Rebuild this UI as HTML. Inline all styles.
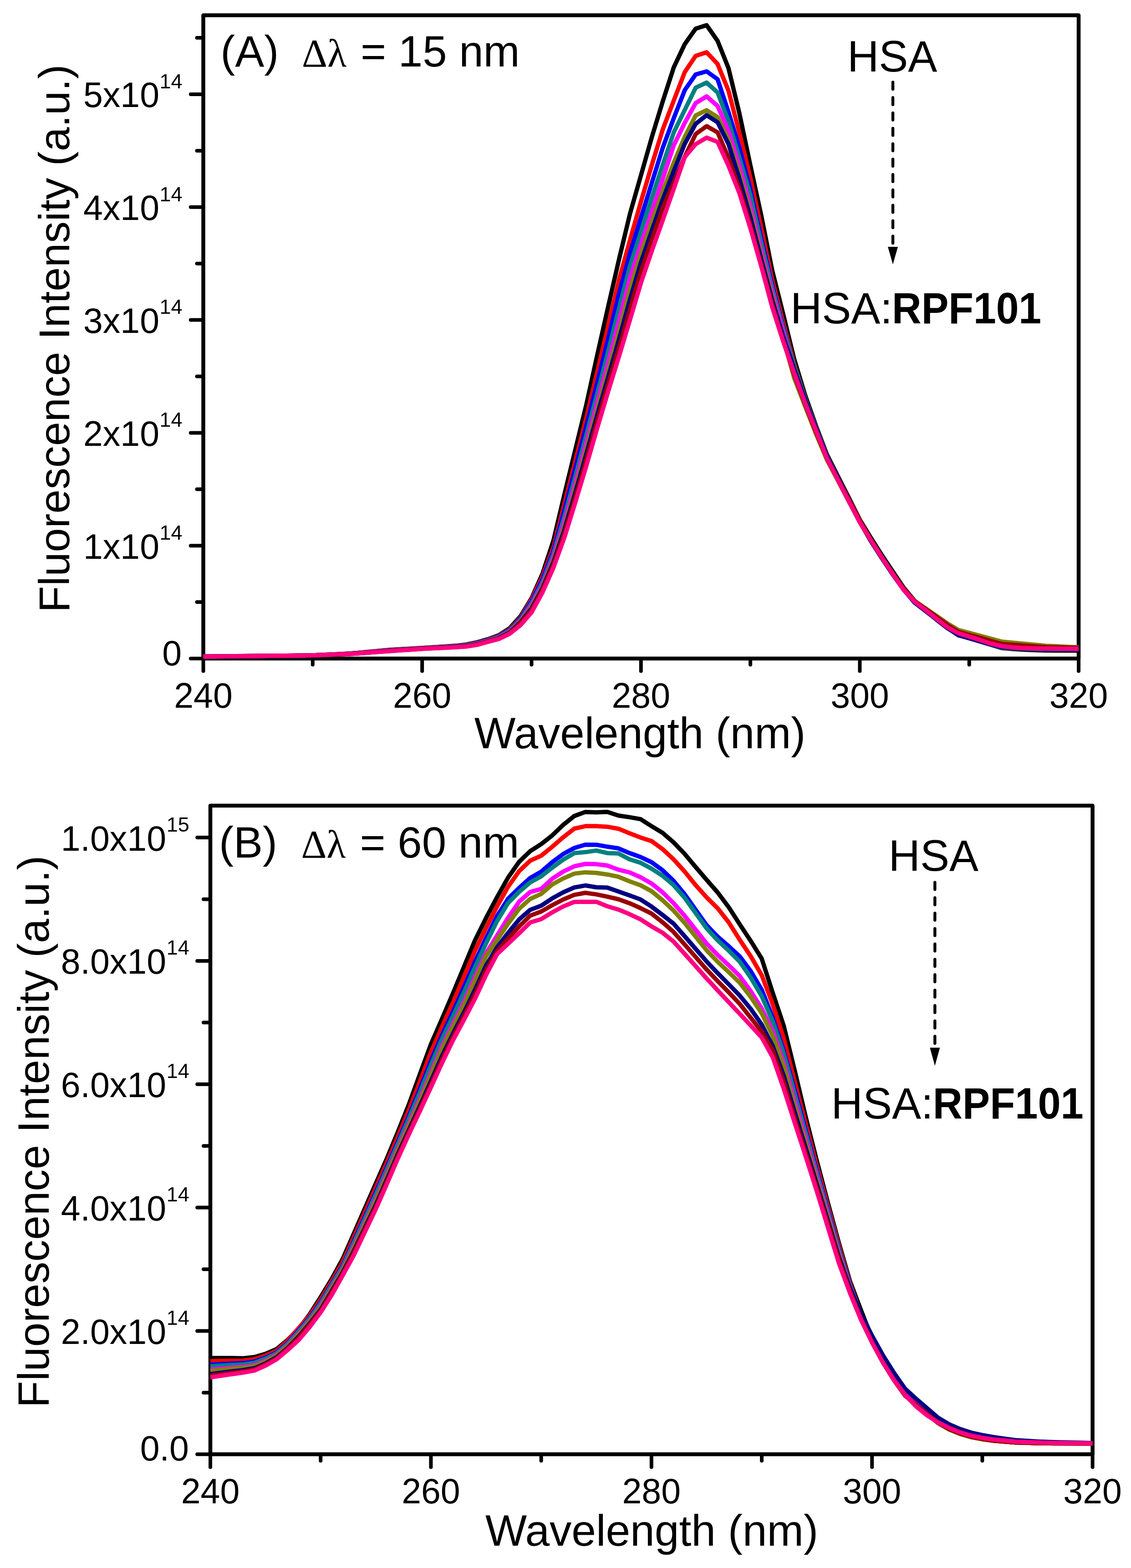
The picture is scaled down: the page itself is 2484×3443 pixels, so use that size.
<!DOCTYPE html><html><head><meta charset="utf-8"><style>html,body{margin:0;padding:0;background:#fff}svg{display:block}</style></head><body>
<svg xmlns="http://www.w3.org/2000/svg" width="2484" height="3443" viewBox="0 0 2484 3443">
<rect width="100%" height="100%" fill="#fff"/>
<rect x="446.50" y="33.50" width="1922.50" height="1412.50" fill="none" stroke="#000" stroke-width="8.5" stroke-linejoin="round"/>
<line x1="446.50" y1="1446.00" x2="418.80" y2="1446.00" stroke="#000" stroke-width="8" stroke-linecap="round"/>
<line x1="446.50" y1="1322.10" x2="432.50" y2="1322.10" stroke="#000" stroke-width="8" stroke-linecap="round"/>
<line x1="446.50" y1="1198.20" x2="418.80" y2="1198.20" stroke="#000" stroke-width="8" stroke-linecap="round"/>
<line x1="446.50" y1="1074.30" x2="432.50" y2="1074.30" stroke="#000" stroke-width="8" stroke-linecap="round"/>
<line x1="446.50" y1="950.40" x2="418.80" y2="950.40" stroke="#000" stroke-width="8" stroke-linecap="round"/>
<line x1="446.50" y1="826.50" x2="432.50" y2="826.50" stroke="#000" stroke-width="8" stroke-linecap="round"/>
<line x1="446.50" y1="702.60" x2="418.80" y2="702.60" stroke="#000" stroke-width="8" stroke-linecap="round"/>
<line x1="446.50" y1="578.70" x2="432.50" y2="578.70" stroke="#000" stroke-width="8" stroke-linecap="round"/>
<line x1="446.50" y1="454.80" x2="418.80" y2="454.80" stroke="#000" stroke-width="8" stroke-linecap="round"/>
<line x1="446.50" y1="330.90" x2="432.50" y2="330.90" stroke="#000" stroke-width="8" stroke-linecap="round"/>
<line x1="446.50" y1="207.00" x2="418.80" y2="207.00" stroke="#000" stroke-width="8" stroke-linecap="round"/>
<line x1="446.50" y1="83.10" x2="432.50" y2="83.10" stroke="#000" stroke-width="8" stroke-linecap="round"/>
<line x1="446.50" y1="1446.00" x2="446.50" y2="1473.60" stroke="#000" stroke-width="8" stroke-linecap="round"/>
<text x="446.50" y="1553.50" font-family="'Liberation Sans', Arial, sans-serif" font-size="77" font-weight="normal" text-anchor="middle">240</text>
<line x1="686.81" y1="1446.00" x2="686.81" y2="1459.60" stroke="#000" stroke-width="8" stroke-linecap="round"/>
<line x1="927.12" y1="1446.00" x2="927.12" y2="1473.60" stroke="#000" stroke-width="8" stroke-linecap="round"/>
<text x="927.12" y="1553.50" font-family="'Liberation Sans', Arial, sans-serif" font-size="77" font-weight="normal" text-anchor="middle">260</text>
<line x1="1167.44" y1="1446.00" x2="1167.44" y2="1459.60" stroke="#000" stroke-width="8" stroke-linecap="round"/>
<line x1="1407.75" y1="1446.00" x2="1407.75" y2="1473.60" stroke="#000" stroke-width="8" stroke-linecap="round"/>
<text x="1407.75" y="1553.50" font-family="'Liberation Sans', Arial, sans-serif" font-size="77" font-weight="normal" text-anchor="middle">280</text>
<line x1="1648.06" y1="1446.00" x2="1648.06" y2="1459.60" stroke="#000" stroke-width="8" stroke-linecap="round"/>
<line x1="1888.38" y1="1446.00" x2="1888.38" y2="1473.60" stroke="#000" stroke-width="8" stroke-linecap="round"/>
<text x="1888.38" y="1553.50" font-family="'Liberation Sans', Arial, sans-serif" font-size="77" font-weight="normal" text-anchor="middle">300</text>
<line x1="2128.69" y1="1446.00" x2="2128.69" y2="1459.60" stroke="#000" stroke-width="8" stroke-linecap="round"/>
<line x1="2369.00" y1="1446.00" x2="2369.00" y2="1473.60" stroke="#000" stroke-width="8" stroke-linecap="round"/>
<text x="2369.00" y="1553.50" font-family="'Liberation Sans', Arial, sans-serif" font-size="77" font-weight="normal" text-anchor="middle">320</text>
<text x="399.20" y="1460.50" font-family="'Liberation Sans', Arial, sans-serif" font-size="77" font-weight="normal" text-anchor="end">0</text>
<text x="350.00" y="1226.50" font-family="'Liberation Sans', Arial, sans-serif" font-size="77" font-weight="normal" text-anchor="end">1x10</text>
<text x="350.40" y="1184.90" font-family="'Liberation Sans', Arial, sans-serif" font-size="45" font-weight="normal" text-anchor="start">14</text>
<text x="350.00" y="978.70" font-family="'Liberation Sans', Arial, sans-serif" font-size="77" font-weight="normal" text-anchor="end">2x10</text>
<text x="350.40" y="937.10" font-family="'Liberation Sans', Arial, sans-serif" font-size="45" font-weight="normal" text-anchor="start">14</text>
<text x="350.00" y="730.90" font-family="'Liberation Sans', Arial, sans-serif" font-size="77" font-weight="normal" text-anchor="end">3x10</text>
<text x="350.40" y="689.30" font-family="'Liberation Sans', Arial, sans-serif" font-size="45" font-weight="normal" text-anchor="start">14</text>
<text x="350.00" y="483.10" font-family="'Liberation Sans', Arial, sans-serif" font-size="77" font-weight="normal" text-anchor="end">4x10</text>
<text x="350.40" y="441.50" font-family="'Liberation Sans', Arial, sans-serif" font-size="45" font-weight="normal" text-anchor="start">14</text>
<text x="350.00" y="235.30" font-family="'Liberation Sans', Arial, sans-serif" font-size="77" font-weight="normal" text-anchor="end">5x10</text>
<text x="350.40" y="193.70" font-family="'Liberation Sans', Arial, sans-serif" font-size="45" font-weight="normal" text-anchor="start">14</text>
<text x="1041.80" y="1642.90" font-family="'Liberation Sans', Arial, sans-serif" font-size="96" font-weight="normal" text-anchor="start">Wavelength (nm)</text>
<text transform="translate(152.2,1345) rotate(-90)" font-family="'Liberation Sans', Arial, sans-serif" font-size="95.4">Fluorescence Intensity (a.u.)</text>
<text x="484.30" y="146.30" font-family="'Liberation Sans', Arial, sans-serif" font-size="96" font-weight="normal" text-anchor="start">(A)</text>
<text x="663.00" y="146.30" font-family="'Liberation Serif', 'Times New Roman', serif" font-size="87" font-weight="normal" text-anchor="start">&#916;&#955;</text>
<text x="792.00" y="146.30" font-family="'Liberation Sans', Arial, sans-serif" font-size="96" font-weight="normal" text-anchor="start" xml:space="preserve">= 15 nm</text>
<text x="1860.90" y="157.30" font-family="'Liberation Sans', Arial, sans-serif" font-size="96" font-weight="normal" text-anchor="start">HSA</text>
<text x="1735.90" y="709.60" font-family="'Liberation Sans', Arial, sans-serif" font-size="96" font-weight="normal" text-anchor="start">HSA:</text>
<text x="1959.10" y="709.60" font-family="'Liberation Sans', Arial, sans-serif" font-size="96" font-weight="bold" text-anchor="start" textLength="328" lengthAdjust="spacingAndGlyphs">RPF101</text>
<line x1="1961.00" y1="180.40" x2="1961.00" y2="540.00" stroke="#000" stroke-width="6.4" stroke-linecap="round" stroke-dasharray="15.5 18.3"/><polygon points="1950.00,542.00 1972.00,542.00 1961.00,580.50" fill="#000"/>
<rect x="462.00" y="1769.00" width="1937.60" height="1424.30" fill="none" stroke="#000" stroke-width="8.5" stroke-linejoin="round"/>
<line x1="462.00" y1="3193.30" x2="433.20" y2="3193.30" stroke="#000" stroke-width="8" stroke-linecap="round"/>
<line x1="462.00" y1="2922.46" x2="433.20" y2="2922.46" stroke="#000" stroke-width="8" stroke-linecap="round"/>
<line x1="462.00" y1="2651.62" x2="433.20" y2="2651.62" stroke="#000" stroke-width="8" stroke-linecap="round"/>
<line x1="462.00" y1="2380.78" x2="433.20" y2="2380.78" stroke="#000" stroke-width="8" stroke-linecap="round"/>
<line x1="462.00" y1="2109.94" x2="433.20" y2="2109.94" stroke="#000" stroke-width="8" stroke-linecap="round"/>
<line x1="462.00" y1="1839.10" x2="433.20" y2="1839.10" stroke="#000" stroke-width="8" stroke-linecap="round"/>
<line x1="462.00" y1="3057.88" x2="447.00" y2="3057.88" stroke="#000" stroke-width="8" stroke-linecap="round"/>
<line x1="462.00" y1="2787.04" x2="447.00" y2="2787.04" stroke="#000" stroke-width="8" stroke-linecap="round"/>
<line x1="462.00" y1="2516.20" x2="447.00" y2="2516.20" stroke="#000" stroke-width="8" stroke-linecap="round"/>
<line x1="462.00" y1="2245.36" x2="447.00" y2="2245.36" stroke="#000" stroke-width="8" stroke-linecap="round"/>
<line x1="462.00" y1="1974.52" x2="447.00" y2="1974.52" stroke="#000" stroke-width="8" stroke-linecap="round"/>
<line x1="462.00" y1="3193.30" x2="462.00" y2="3221.50" stroke="#000" stroke-width="8" stroke-linecap="round"/>
<text x="462.00" y="3301.40" font-family="'Liberation Sans', Arial, sans-serif" font-size="77" font-weight="normal" text-anchor="middle">240</text>
<line x1="704.20" y1="3193.30" x2="704.20" y2="3207.50" stroke="#000" stroke-width="8" stroke-linecap="round"/>
<line x1="946.40" y1="3193.30" x2="946.40" y2="3221.50" stroke="#000" stroke-width="8" stroke-linecap="round"/>
<text x="946.40" y="3301.40" font-family="'Liberation Sans', Arial, sans-serif" font-size="77" font-weight="normal" text-anchor="middle">260</text>
<line x1="1188.60" y1="3193.30" x2="1188.60" y2="3207.50" stroke="#000" stroke-width="8" stroke-linecap="round"/>
<line x1="1430.80" y1="3193.30" x2="1430.80" y2="3221.50" stroke="#000" stroke-width="8" stroke-linecap="round"/>
<text x="1430.80" y="3301.40" font-family="'Liberation Sans', Arial, sans-serif" font-size="77" font-weight="normal" text-anchor="middle">280</text>
<line x1="1673.00" y1="3193.30" x2="1673.00" y2="3207.50" stroke="#000" stroke-width="8" stroke-linecap="round"/>
<line x1="1915.20" y1="3193.30" x2="1915.20" y2="3221.50" stroke="#000" stroke-width="8" stroke-linecap="round"/>
<text x="1915.20" y="3301.40" font-family="'Liberation Sans', Arial, sans-serif" font-size="77" font-weight="normal" text-anchor="middle">300</text>
<line x1="2157.40" y1="3193.30" x2="2157.40" y2="3207.50" stroke="#000" stroke-width="8" stroke-linecap="round"/>
<line x1="2399.60" y1="3193.30" x2="2399.60" y2="3221.50" stroke="#000" stroke-width="8" stroke-linecap="round"/>
<text x="2399.60" y="3301.40" font-family="'Liberation Sans', Arial, sans-serif" font-size="77" font-weight="normal" text-anchor="middle">320</text>
<text x="414.80" y="3206.80" font-family="'Liberation Sans', Arial, sans-serif" font-size="77" font-weight="normal" text-anchor="end">0.0</text>
<text x="365.00" y="2950.96" font-family="'Liberation Sans', Arial, sans-serif" font-size="77" font-weight="normal" text-anchor="end">2.0x10</text>
<text x="365.70" y="2908.96" font-family="'Liberation Sans', Arial, sans-serif" font-size="45" font-weight="normal" text-anchor="start">14</text>
<text x="365.00" y="2680.12" font-family="'Liberation Sans', Arial, sans-serif" font-size="77" font-weight="normal" text-anchor="end">4.0x10</text>
<text x="365.70" y="2638.12" font-family="'Liberation Sans', Arial, sans-serif" font-size="45" font-weight="normal" text-anchor="start">14</text>
<text x="365.00" y="2409.28" font-family="'Liberation Sans', Arial, sans-serif" font-size="77" font-weight="normal" text-anchor="end">6.0x10</text>
<text x="365.70" y="2367.28" font-family="'Liberation Sans', Arial, sans-serif" font-size="45" font-weight="normal" text-anchor="start">14</text>
<text x="365.00" y="2138.44" font-family="'Liberation Sans', Arial, sans-serif" font-size="77" font-weight="normal" text-anchor="end">8.0x10</text>
<text x="365.70" y="2096.44" font-family="'Liberation Sans', Arial, sans-serif" font-size="45" font-weight="normal" text-anchor="start">14</text>
<text x="365.00" y="1867.60" font-family="'Liberation Sans', Arial, sans-serif" font-size="77" font-weight="normal" text-anchor="end">1.0x10</text>
<text x="365.70" y="1825.60" font-family="'Liberation Sans', Arial, sans-serif" font-size="45" font-weight="normal" text-anchor="start">15</text>
<text x="1065.90" y="3393.80" font-family="'Liberation Sans', Arial, sans-serif" font-size="96.5" font-weight="normal" text-anchor="start">Wavelength (nm)</text>
<text transform="translate(107,3091) rotate(-90)" font-family="'Liberation Sans', Arial, sans-serif" font-size="96.1">Fluorescence Intensity (a.u.)</text>
<text x="481.10" y="1883.10" font-family="'Liberation Sans', Arial, sans-serif" font-size="96" font-weight="normal" text-anchor="start">(B)</text>
<text x="661.40" y="1883.10" font-family="'Liberation Serif', 'Times New Roman', serif" font-size="87" font-weight="normal" text-anchor="start">&#916;&#955;</text>
<text x="790.60" y="1883.10" font-family="'Liberation Sans', Arial, sans-serif" font-size="96" font-weight="normal" text-anchor="start" xml:space="preserve">= 60 nm</text>
<text x="1951.60" y="1912.40" font-family="'Liberation Sans', Arial, sans-serif" font-size="96" font-weight="normal" text-anchor="start">HSA</text>
<text x="1825.60" y="2455.50" font-family="'Liberation Sans', Arial, sans-serif" font-size="96" font-weight="normal" text-anchor="start">HSA:</text>
<text x="2048.80" y="2455.50" font-family="'Liberation Sans', Arial, sans-serif" font-size="96" font-weight="bold" text-anchor="start" textLength="331" lengthAdjust="spacingAndGlyphs">RPF101</text>
<line x1="2053.30" y1="1937.50" x2="2053.30" y2="2298.60" stroke="#000" stroke-width="6.4" stroke-linecap="round" stroke-dasharray="15.5 18.3"/><polygon points="2042.30,2300.60 2064.30,2300.60 2053.30,2340.30" fill="#000"/>
<polyline points="446.5,1441.5 470.5,1441.3 494.6,1441.0 518.6,1440.8 542.6,1440.6 566.7,1440.3 590.7,1440.1 614.7,1439.9 638.8,1439.6 662.8,1439.4 686.8,1439.0 710.8,1437.8 734.9,1436.7 758.9,1435.5 782.9,1433.8 807.0,1431.5 831.0,1429.2 855.0,1427.0 879.1,1425.6 903.1,1424.2 927.1,1422.8 951.2,1421.2 975.2,1419.7 999.2,1418.1 1023.2,1415.4 1047.3,1410.5 1071.3,1403.6 1095.3,1394.9 1119.4,1379.5 1143.4,1352.9 1167.4,1313.6 1191.5,1259.7 1215.5,1187.0 1239.5,1086.0 1263.6,987.5 1287.6,889.2 1311.6,780.2 1335.7,673.2 1359.7,568.9 1383.7,469.0 1407.8,384.7 1431.8,300.5 1455.8,221.9 1479.8,148.0 1503.9,96.9 1527.9,62.9 1551.9,55.2 1576.0,89.8 1600.0,149.8 1624.0,249.2 1648.1,363.6 1672.1,474.1 1696.1,594.1 1720.2,690.2 1744.2,788.1 1768.2,867.4 1792.2,935.1 1816.3,998.1 1840.3,1045.7 1864.3,1092.8 1888.4,1141.2 1912.4,1180.5 1936.4,1218.2 1960.5,1254.4 1984.5,1290.0 2008.5,1318.9 2032.6,1340.5 2056.6,1360.4 2080.6,1379.2 2104.7,1393.5 2128.7,1401.2 2152.7,1408.8 2176.8,1416.0 2200.8,1423.1 2224.8,1425.0 2248.8,1426.5 2272.9,1427.6 2296.9,1428.2 2320.9,1428.4 2345.0,1428.5 2369.0,1428.5" fill="none" stroke="#000000" stroke-width="9.5" stroke-linejoin="round" stroke-linecap="butt"/>
<polyline points="446.5,1441.6 470.5,1441.3 494.6,1441.1 518.6,1440.8 542.6,1440.6 566.7,1440.4 590.7,1440.1 614.7,1439.9 638.8,1439.6 662.8,1439.4 686.8,1439.0 710.8,1437.9 734.9,1436.8 758.9,1435.7 782.9,1434.0 807.0,1431.8 831.0,1429.6 855.0,1427.5 879.1,1426.1 903.1,1424.6 927.1,1423.1 951.2,1421.6 975.2,1420.2 999.2,1418.7 1023.2,1416.2 1047.3,1411.5 1071.3,1404.7 1095.3,1396.4 1119.4,1381.7 1143.4,1356.2 1167.4,1316.2 1191.5,1265.8 1215.5,1201.9 1239.5,1107.0 1263.6,1011.8 1287.6,917.5 1311.6,817.2 1335.7,715.6 1359.7,614.0 1383.7,526.9 1407.8,442.4 1431.8,361.3 1455.8,283.6 1479.8,220.9 1503.9,158.4 1527.9,122.7 1551.9,114.8 1576.0,140.6 1600.0,199.3 1624.0,292.3 1648.1,390.9 1672.1,501.0 1696.1,615.2 1720.2,708.7 1744.2,800.1 1768.2,873.7 1792.2,939.3 1816.3,1001.3 1840.3,1048.6 1864.3,1095.8 1888.4,1143.0 1912.4,1185.3 1936.4,1222.9 1960.5,1259.0 1984.5,1293.2 2008.5,1321.9 2032.6,1340.6 2056.6,1359.3 2080.6,1377.9 2104.7,1394.3 2128.7,1401.3 2152.7,1408.3 2176.8,1415.2 2200.8,1422.0 2224.8,1423.0 2248.8,1424.0 2272.9,1425.0 2296.9,1426.0 2320.9,1426.0 2345.0,1425.8 2369.0,1425.6" fill="none" stroke="#ff0000" stroke-width="9.5" stroke-linejoin="round" stroke-linecap="butt"/>
<polyline points="446.5,1441.6 470.5,1441.4 494.6,1441.1 518.6,1440.9 542.6,1440.6 566.7,1440.4 590.7,1440.1 614.7,1439.9 638.8,1439.7 662.8,1439.4 686.8,1439.0 710.8,1437.9 734.9,1436.9 758.9,1435.8 782.9,1434.2 807.0,1432.0 831.0,1429.9 855.0,1427.9 879.1,1426.4 903.1,1424.9 927.1,1423.4 951.2,1422.0 975.2,1420.5 999.2,1419.1 1023.2,1416.7 1047.3,1412.2 1071.3,1405.4 1095.3,1397.4 1119.4,1383.2 1143.4,1358.4 1167.4,1320.5 1191.5,1272.1 1215.5,1209.3 1239.5,1120.8 1263.6,1028.5 1287.6,936.1 1311.6,840.9 1335.7,743.9 1359.7,644.6 1383.7,556.7 1407.8,478.0 1431.8,400.6 1455.8,323.8 1479.8,259.4 1503.9,197.9 1527.9,163.5 1551.9,156.7 1576.0,174.0 1600.0,246.2 1624.0,325.0 1648.1,416.0 1672.1,523.7 1696.1,626.8 1720.2,718.2 1744.2,805.1 1768.2,876.3 1792.2,941.1 1816.3,1002.5 1840.3,1050.0 1864.3,1097.4 1888.4,1144.9 1912.4,1187.3 1936.4,1224.9 1960.5,1260.8 1984.5,1294.5 2008.5,1322.8 2032.6,1341.3 2056.6,1359.7 2080.6,1378.1 2104.7,1394.3 2128.7,1401.3 2152.7,1408.3 2176.8,1415.2 2200.8,1422.0 2224.8,1423.0 2248.8,1424.0 2272.9,1425.0 2296.9,1426.0 2320.9,1426.0 2345.0,1425.8 2369.0,1425.6" fill="none" stroke="#0000ff" stroke-width="9.5" stroke-linejoin="round" stroke-linecap="butt"/>
<polyline points="446.5,1441.6 470.5,1441.4 494.6,1441.1 518.6,1440.9 542.6,1440.7 566.7,1440.4 590.7,1440.2 614.7,1439.9 638.8,1439.7 662.8,1439.4 686.8,1439.0 710.8,1438.0 734.9,1437.0 758.9,1435.9 782.9,1434.3 807.0,1432.3 831.0,1430.2 855.0,1428.2 879.1,1426.7 903.1,1425.2 927.1,1423.7 951.2,1422.3 975.2,1420.9 999.2,1419.6 1023.2,1417.3 1047.3,1413.0 1071.3,1406.2 1095.3,1398.6 1119.4,1384.9 1143.4,1360.7 1167.4,1325.2 1191.5,1278.7 1215.5,1217.2 1239.5,1134.7 1263.6,1045.7 1287.6,955.3 1311.6,864.2 1335.7,771.8 1359.7,675.9 1383.7,583.7 1407.8,508.8 1431.8,434.3 1455.8,361.3 1479.8,290.5 1503.9,241.5 1527.9,192.5 1551.9,181.4 1576.0,203.0 1600.0,265.9 1624.0,346.0 1648.1,428.8 1672.1,534.8 1696.1,633.7 1720.2,722.4 1744.2,803.6 1768.2,874.6 1792.2,939.9 1816.3,1001.7 1840.3,1049.4 1864.3,1097.1 1888.4,1144.8 1912.4,1187.3 1936.4,1224.9 1960.5,1260.8 1984.5,1294.5 2008.5,1322.8 2032.6,1341.3 2056.6,1359.7 2080.6,1378.1 2104.7,1394.3 2128.7,1401.3 2152.7,1408.3 2176.8,1415.2 2200.8,1422.0 2224.8,1423.0 2248.8,1424.0 2272.9,1425.0 2296.9,1426.0 2320.9,1426.0 2345.0,1425.8 2369.0,1425.6" fill="none" stroke="#008080" stroke-width="9.5" stroke-linejoin="round" stroke-linecap="butt"/>
<polyline points="446.5,1441.7 470.5,1441.4 494.6,1441.2 518.6,1440.9 542.6,1440.7 566.7,1440.4 590.7,1440.2 614.7,1439.9 638.8,1439.7 662.8,1439.5 686.8,1439.1 710.8,1438.1 734.9,1437.0 758.9,1436.0 782.9,1434.5 807.0,1432.5 831.0,1430.5 855.0,1428.6 879.1,1427.0 903.1,1425.5 927.1,1423.9 951.2,1422.6 975.2,1421.3 999.2,1420.0 1023.2,1417.9 1047.3,1413.7 1071.3,1407.0 1095.3,1399.7 1119.4,1386.4 1143.4,1362.8 1167.4,1329.5 1191.5,1284.6 1215.5,1224.2 1239.5,1146.7 1263.6,1060.7 1287.6,972.4 1311.6,883.9 1335.7,795.4 1359.7,704.3 1383.7,610.5 1407.8,536.2 1431.8,464.4 1455.8,391.8 1479.8,319.1 1503.9,269.6 1527.9,226.4 1551.9,211.6 1576.0,232.6 1600.0,287.2 1624.0,364.5 1648.1,452.2 1672.1,551.5 1696.1,644.3 1720.2,731.1 1744.2,812.3 1768.2,880.5 1792.2,944.1 1816.3,1004.5 1840.3,1051.4 1864.3,1098.3 1888.4,1145.2 1912.4,1187.3 1936.4,1224.9 1960.5,1260.8 1984.5,1294.5 2008.5,1322.6 2032.6,1340.3 2056.6,1358.0 2080.6,1375.7 2104.7,1391.4 2128.7,1398.6 2152.7,1405.8 2176.8,1413.0 2200.8,1420.0 2224.8,1421.3 2248.8,1422.5 2272.9,1423.7 2296.9,1425.0 2320.9,1425.1 2345.0,1425.1 2369.0,1425.1" fill="none" stroke="#ff00ff" stroke-width="9.5" stroke-linejoin="round" stroke-linecap="butt"/>
<polyline points="446.5,1441.7 470.5,1441.5 494.6,1441.2 518.6,1441.0 542.6,1440.7 566.7,1440.5 590.7,1440.2 614.7,1440.0 638.8,1439.7 662.8,1439.5 686.8,1439.1 710.8,1438.1 734.9,1437.1 758.9,1436.1 782.9,1434.6 807.0,1432.7 831.0,1430.8 855.0,1428.9 879.1,1427.3 903.1,1425.7 927.1,1424.2 951.2,1422.8 975.2,1421.6 999.2,1420.3 1023.2,1418.3 1047.3,1414.3 1071.3,1407.6 1095.3,1400.6 1119.4,1387.7 1143.4,1364.5 1167.4,1333.2 1191.5,1288.4 1215.5,1229.9 1239.5,1156.2 1263.6,1072.6 1287.6,986.4 1311.6,899.3 1335.7,813.9 1359.7,726.9 1383.7,635.4 1407.8,557.0 1431.8,487.0 1455.8,420.3 1479.8,357.2 1503.9,300.7 1527.9,253.6 1551.9,241.9 1576.0,257.3 1600.0,306.7 1624.0,381.8 1648.1,467.9 1672.1,562.6 1696.1,652.9 1720.2,742.4 1744.2,829.8 1768.2,892.0 1792.2,952.7 1816.3,1010.0 1840.3,1055.6 1864.3,1101.2 1888.4,1146.8 1912.4,1188.0 1936.4,1225.1 1960.5,1260.1 1984.5,1292.4 2008.5,1319.1 2032.6,1335.7 2056.6,1352.2 2080.6,1368.7 2104.7,1383.3 2128.7,1389.7 2152.7,1396.2 2176.8,1402.7 2200.8,1409.0 2224.8,1411.2 2248.8,1413.5 2272.9,1415.7 2296.9,1417.9 2320.9,1419.1 2345.0,1420.2 2369.0,1421.3" fill="none" stroke="#808000" stroke-width="9.5" stroke-linejoin="round" stroke-linecap="butt"/>
<polyline points="446.5,1441.7 470.5,1441.5 494.6,1441.2 518.6,1441.0 542.6,1440.7 566.7,1440.5 590.7,1440.2 614.7,1440.0 638.8,1439.7 662.8,1439.5 686.8,1439.1 710.8,1438.1 734.9,1437.2 758.9,1436.2 782.9,1434.8 807.0,1432.9 831.0,1431.0 855.0,1429.1 879.1,1427.5 903.1,1425.9 927.1,1424.3 951.2,1423.1 975.2,1421.8 999.2,1420.6 1023.2,1418.7 1047.3,1414.8 1071.3,1408.1 1095.3,1401.3 1119.4,1388.8 1143.4,1365.9 1167.4,1336.2 1191.5,1291.4 1215.5,1234.4 1239.5,1163.7 1263.6,1081.8 1287.6,997.5 1311.6,911.5 1335.7,828.0 1359.7,744.7 1383.7,657.6 1407.8,576.2 1431.8,506.1 1455.8,437.6 1479.8,375.7 1503.9,315.7 1527.9,272.0 1551.9,253.0 1576.0,268.4 1600.0,316.3 1624.0,393.2 1648.1,477.5 1672.1,570.0 1696.1,659.5 1720.2,738.8 1744.2,810.0 1768.2,878.0 1792.2,942.3 1816.3,1003.3 1840.3,1050.5 1864.3,1097.8 1888.4,1145.0 1912.4,1187.3 1936.4,1224.9 1960.5,1260.8 1984.5,1294.5 2008.5,1322.9 2032.6,1341.5 2056.6,1360.0 2080.6,1378.6 2104.7,1394.9 2128.7,1401.5 2152.7,1408.0 2176.8,1414.6 2200.8,1421.0 2224.8,1422.0 2248.8,1423.0 2272.9,1424.0 2296.9,1425.0 2320.9,1425.1 2345.0,1425.1 2369.0,1425.1" fill="none" stroke="#000080" stroke-width="9.5" stroke-linejoin="round" stroke-linecap="butt"/>
<polyline points="446.5,1441.8 470.5,1441.5 494.6,1441.3 518.6,1441.0 542.6,1440.8 566.7,1440.5 590.7,1440.2 614.7,1440.0 638.8,1439.7 662.8,1439.5 686.8,1439.1 710.8,1438.2 734.9,1437.2 758.9,1436.3 782.9,1434.9 807.0,1433.0 831.0,1431.2 855.0,1429.4 879.1,1427.8 903.1,1426.2 927.1,1424.5 951.2,1423.3 975.2,1422.1 999.2,1420.9 1023.2,1419.1 1047.3,1415.4 1071.3,1408.7 1095.3,1402.2 1119.4,1390.0 1143.4,1367.4 1167.4,1339.5 1191.5,1294.7 1215.5,1239.3 1239.5,1171.5 1263.6,1091.6 1287.6,1009.4 1311.6,924.7 1335.7,842.9 1359.7,762.3 1383.7,678.7 1407.8,595.5 1431.8,525.9 1455.8,456.3 1479.8,399.7 1503.9,344.3 1527.9,294.3 1551.9,277.0 1576.0,290.6 1600.0,346.4 1624.0,413.7 1648.1,493.7 1672.1,581.8 1696.1,669.5 1720.2,748.2 1744.2,822.1 1768.2,886.8 1792.2,948.7 1816.3,1007.3 1840.3,1052.8 1864.3,1098.3 1888.4,1143.8 1912.4,1185.3 1936.4,1222.9 1960.5,1258.6 1984.5,1291.8 2008.5,1319.5 2032.6,1337.0 2056.6,1354.4 2080.6,1371.9 2104.7,1387.3 2128.7,1394.0 2152.7,1400.7 2176.8,1407.5 2200.8,1414.0 2224.8,1415.7 2248.8,1417.5 2272.9,1419.2 2296.9,1420.9 2320.9,1421.6 2345.0,1422.1 2369.0,1422.6" fill="none" stroke="#990000" stroke-width="9.5" stroke-linejoin="round" stroke-linecap="butt"/>
<polyline points="446.5,1441.8 470.5,1441.5 494.6,1441.3 518.6,1441.0 542.6,1440.8 566.7,1440.5 590.7,1440.3 614.7,1440.0 638.8,1439.8 662.8,1439.5 686.8,1439.1 710.8,1438.2 734.9,1437.3 758.9,1436.4 782.9,1435.0 807.0,1433.3 831.0,1431.5 855.0,1429.7 879.1,1428.1 903.1,1426.4 927.1,1424.8 951.2,1423.6 975.2,1422.4 999.2,1421.3 1023.2,1419.7 1047.3,1416.1 1071.3,1409.4 1095.3,1403.2 1119.4,1391.6 1143.4,1372.5 1167.4,1344.6 1191.5,1300.6 1215.5,1246.5 1239.5,1180.5 1263.6,1102.8 1287.6,1023.3 1311.6,940.1 1335.7,859.6 1359.7,781.8 1383.7,702.0 1407.8,620.8 1431.8,550.1 1455.8,482.9 1479.8,414.5 1503.9,344.9 1527.9,316.5 1551.9,302.3 1576.0,311.6 1600.0,363.9 1624.0,424.3 1648.1,501.3 1672.1,585.2 1696.1,674.8 1720.2,749.7 1744.2,818.8 1768.2,884.5 1792.2,945.4 1816.3,1006.5 1840.3,1053.9 1864.3,1100.7 1888.4,1146.9 1912.4,1185.5 1936.4,1223.6 1960.5,1259.6 1984.5,1295.2 2008.5,1320.9 2032.6,1339.6 2056.6,1358.4 2080.6,1377.2 2104.7,1390.4 2128.7,1397.9 2152.7,1405.4 2176.8,1413.5 2200.8,1419.0 2224.8,1421.4 2248.8,1422.9 2272.9,1423.7 2296.9,1424.1 2320.9,1424.3 2345.0,1424.5 2369.0,1424.6" fill="none" stroke="#ff0080" stroke-width="9.5" stroke-linejoin="round" stroke-linecap="butt"/>
<polyline points="462.0,2982.0 486.2,2982.0 510.4,2982.1 534.7,2982.4 558.9,2979.8 583.1,2972.8 607.3,2962.4 631.5,2942.4 655.8,2918.0 680.0,2886.1 704.2,2848.3 728.4,2808.5 752.6,2764.4 776.9,2709.2 801.1,2653.9 825.3,2598.9 849.5,2544.1 873.7,2485.8 898.0,2425.1 922.2,2358.7 946.4,2293.1 970.6,2237.6 994.8,2181.1 1019.1,2122.7 1043.3,2064.7 1067.5,2015.8 1091.7,1970.0 1115.9,1927.0 1140.2,1892.2 1164.4,1869.1 1188.6,1853.4 1212.8,1834.4 1237.0,1811.3 1261.3,1791.8 1285.5,1782.9 1309.7,1783.7 1333.9,1782.7 1358.1,1790.7 1382.4,1794.4 1406.6,1798.6 1430.8,1814.0 1455.0,1828.6 1479.2,1849.4 1503.5,1874.7 1527.7,1903.6 1551.9,1931.9 1576.1,1959.5 1600.3,1991.8 1624.6,2029.5 1648.8,2066.1 1673.0,2105.1 1697.2,2180.2 1721.4,2252.8 1745.7,2352.0 1769.9,2453.9 1794.1,2549.4 1818.3,2640.9 1842.5,2729.5 1866.8,2813.2 1891.0,2876.9 1915.2,2939.0 1939.4,2985.2 1963.6,3025.9 1987.9,3062.3 2012.1,3083.9 2036.3,3104.1 2060.5,3124.3 2084.7,3136.7 2109.0,3144.1 2133.2,3151.5 2157.4,3158.9 2181.6,3163.6 2205.8,3165.5 2230.1,3167.4 2254.3,3168.1 2278.5,3168.9 2302.7,3169.3 2326.9,3169.4 2351.2,3169.5 2375.4,3169.7 2399.6,3169.8" fill="none" stroke="#000000" stroke-width="9.5" stroke-linejoin="round" stroke-linecap="butt"/>
<polyline points="462.0,2988.8 486.2,2988.2 510.4,2987.7 534.7,2987.4 558.9,2984.5 583.1,2976.5 607.3,2965.9 631.5,2944.1 655.8,2916.5 680.0,2888.9 704.2,2853.1 728.4,2813.4 752.6,2771.3 776.9,2717.0 801.1,2662.7 825.3,2608.0 849.5,2552.9 873.7,2496.1 898.0,2437.2 922.2,2374.6 946.4,2310.3 970.6,2255.0 994.8,2201.4 1019.1,2144.3 1043.3,2087.3 1067.5,2037.7 1091.7,1990.4 1115.9,1947.0 1140.2,1912.7 1164.4,1889.9 1188.6,1879.0 1212.8,1859.4 1237.0,1838.4 1261.3,1819.5 1285.5,1814.1 1309.7,1814.0 1333.9,1815.4 1358.1,1819.7 1382.4,1829.6 1406.6,1838.9 1430.8,1846.7 1455.0,1864.3 1479.2,1886.8 1503.5,1913.5 1527.7,1943.4 1551.9,1970.4 1576.1,1994.3 1600.3,2025.0 1624.6,2063.5 1648.8,2099.7 1673.0,2141.4 1697.2,2205.6 1721.4,2280.3 1745.7,2376.1 1769.9,2468.9 1794.1,2560.7 1818.3,2649.1 1842.5,2735.9 1866.8,2817.9 1891.0,2886.1 1915.2,2940.6 1939.4,2987.1 1963.6,3027.2 1987.9,3062.4 2012.1,3083.9 2036.3,3104.1 2060.5,3124.3 2084.7,3138.3 2109.0,3148.3 2133.2,3155.5 2157.4,3160.2 2181.6,3163.6 2205.8,3165.5 2230.1,3167.4 2254.3,3168.1 2278.5,3168.9 2302.7,3169.3 2326.9,3169.4 2351.2,3169.5 2375.4,3169.7 2399.6,3169.8" fill="none" stroke="#ff0000" stroke-width="9.5" stroke-linejoin="round" stroke-linecap="butt"/>
<polyline points="462.0,2996.4 486.2,2995.2 510.4,2994.0 534.7,2993.1 558.9,2989.8 583.1,2981.2 607.3,2969.8 631.5,2949.3 655.8,2921.3 680.0,2893.4 704.2,2859.2 728.4,2819.1 752.6,2778.8 776.9,2725.5 801.1,2672.3 825.3,2618.2 849.5,2562.8 873.7,2507.1 898.0,2450.0 922.2,2390.9 946.4,2329.5 970.6,2273.2 994.8,2221.7 1019.1,2167.5 1043.3,2111.4 1067.5,2060.1 1091.7,2011.6 1115.9,1973.5 1140.2,1949.7 1164.4,1927.8 1188.6,1914.1 1212.8,1893.1 1237.0,1875.2 1261.3,1862.0 1285.5,1854.8 1309.7,1854.9 1333.9,1859.1 1358.1,1862.8 1382.4,1873.1 1406.6,1881.7 1430.8,1893.1 1455.0,1910.7 1479.2,1934.0 1503.5,1963.3 1527.7,1997.4 1551.9,2031.4 1576.1,2056.7 1600.3,2077.7 1624.6,2099.9 1648.8,2132.3 1673.0,2173.3 1697.2,2234.6 1721.4,2307.3 1745.7,2394.1 1769.9,2482.5 1794.1,2571.1 1818.3,2656.9 1842.5,2742.1 1866.8,2821.0 1891.0,2887.0 1915.2,2940.3 1939.4,2986.3 1963.6,3025.8 1987.9,3060.4 2012.1,3081.6 2036.3,3101.5 2060.5,3121.4 2084.7,3135.3 2109.0,3145.3 2133.2,3152.5 2157.4,3157.2 2181.6,3160.8 2205.8,3163.1 2230.1,3165.4 2254.3,3166.4 2278.5,3167.3 2302.7,3168.0 2326.9,3168.3 2351.2,3168.6 2375.4,3169.0 2399.6,3169.3" fill="none" stroke="#0000ff" stroke-width="9.5" stroke-linejoin="round" stroke-linecap="butt"/>
<polyline points="462.0,3000.2 486.2,2998.6 510.4,2997.2 534.7,2995.9 558.9,2992.5 583.1,2983.5 607.3,2971.8 631.5,2951.4 655.8,2923.8 680.0,2895.7 704.2,2862.2 728.4,2822.0 752.6,2781.8 776.9,2729.7 801.1,2677.0 825.3,2623.3 849.5,2567.8 873.7,2512.3 898.0,2456.1 922.2,2398.6 946.4,2338.5 970.6,2281.8 994.8,2231.2 1019.1,2178.8 1043.3,2123.3 1067.5,2071.5 1091.7,2022.5 1115.9,1982.8 1140.2,1958.3 1164.4,1937.6 1188.6,1924.3 1212.8,1905.3 1237.0,1887.6 1261.3,1873.3 1285.5,1871.1 1309.7,1867.6 1333.9,1873.2 1358.1,1874.1 1382.4,1886.7 1406.6,1894.4 1430.8,1907.2 1455.0,1922.9 1479.2,1943.3 1503.5,1971.1 1527.7,2004.7 1551.9,2038.4 1576.1,2064.7 1600.3,2087.4 1624.6,2111.7 1648.8,2146.5 1673.0,2187.5 1697.2,2242.9 1721.4,2313.9 1745.7,2403.4 1769.9,2490.1 1794.1,2576.7 1818.3,2661.3 1842.5,2745.4 1866.8,2822.8 1891.0,2887.4 1915.2,2940.3 1939.4,2986.3 1963.6,3025.8 1987.9,3060.4 2012.1,3081.6 2036.3,3101.5 2060.5,3121.4 2084.7,3135.3 2109.0,3145.3 2133.2,3152.5 2157.4,3157.2 2181.6,3160.8 2205.8,3163.1 2230.1,3165.4 2254.3,3166.4 2278.5,3167.3 2302.7,3168.0 2326.9,3168.3 2351.2,3168.6 2375.4,3169.0 2399.6,3169.3" fill="none" stroke="#008080" stroke-width="9.5" stroke-linejoin="round" stroke-linecap="butt"/>
<polyline points="462.0,3007.4 486.2,3005.2 510.4,3003.1 534.7,3001.2 558.9,2997.5 583.1,2987.9 607.3,2975.5 631.5,2955.0 655.8,2928.5 680.0,2900.1 704.2,2868.0 728.4,2827.6 752.6,2787.1 776.9,2737.3 801.1,2685.5 825.3,2633.1 849.5,2577.4 873.7,2521.7 898.0,2467.1 922.2,2412.2 946.4,2354.5 970.6,2297.3 994.8,2248.4 1019.1,2199.4 1043.3,2145.0 1067.5,2093.2 1091.7,2054.2 1115.9,2015.1 1140.2,1979.9 1164.4,1958.6 1188.6,1951.9 1212.8,1929.5 1237.0,1913.8 1261.3,1902.2 1285.5,1897.0 1309.7,1897.6 1333.9,1900.5 1358.1,1909.6 1382.4,1915.5 1406.6,1926.2 1430.8,1939.8 1455.0,1959.0 1479.2,1983.0 1503.5,2010.7 1527.7,2041.2 1551.9,2071.7 1576.1,2096.9 1600.3,2119.3 1624.6,2143.2 1648.8,2176.2 1673.0,2214.6 1697.2,2263.5 1721.4,2333.3 1745.7,2418.5 1769.9,2502.3 1794.1,2586.0 1818.3,2668.6 1842.5,2751.2 1866.8,2826.3 1891.0,2890.6 1915.2,2943.0 1939.4,2988.5 1963.6,3027.5 1987.9,3061.5 2012.1,3082.4 2036.3,3101.9 2060.5,3121.5 2084.7,3135.3 2109.0,3145.3 2133.2,3152.5 2157.4,3157.2 2181.6,3160.8 2205.8,3163.1 2230.1,3165.4 2254.3,3166.4 2278.5,3167.3 2302.7,3168.0 2326.9,3168.3 2351.2,3168.6 2375.4,3169.0 2399.6,3169.3" fill="none" stroke="#ff00ff" stroke-width="9.5" stroke-linejoin="round" stroke-linecap="butt"/>
<polyline points="462.0,3010.4 486.2,3007.9 510.4,3005.6 534.7,3003.4 558.9,2999.6 583.1,2989.7 607.3,2977.0 631.5,2956.5 655.8,2930.5 680.0,2901.9 704.2,2870.5 728.4,2829.9 752.6,2789.3 776.9,2740.4 801.1,2688.9 825.3,2637.1 849.5,2581.3 873.7,2525.5 898.0,2471.5 922.2,2417.5 946.4,2360.7 970.6,2303.9 994.8,2255.1 1019.1,2206.9 1043.3,2153.7 1067.5,2099.8 1091.7,2064.0 1115.9,2028.2 1140.2,1995.5 1164.4,1973.8 1188.6,1962.9 1212.8,1942.2 1237.0,1928.8 1261.3,1918.4 1285.5,1915.4 1309.7,1916.7 1333.9,1920.2 1358.1,1925.2 1382.4,1935.1 1406.6,1943.8 1430.8,1956.8 1455.0,1976.5 1479.2,1999.3 1503.5,2026.3 1527.7,2056.4 1551.9,2086.6 1576.1,2111.7 1600.3,2134.3 1624.6,2157.9 1648.8,2189.0 1673.0,2225.0 1697.2,2274.8 1721.4,2342.6 1745.7,2429.8 1769.9,2511.4 1794.1,2592.9 1818.3,2674.2 1842.5,2755.6 1866.8,2829.5 1891.0,2894.4 1915.2,2946.9 1939.4,2992.1 1963.6,3030.8 1987.9,3064.5 2012.1,3085.6 2036.3,3105.5 2060.5,3125.3 2084.7,3139.1 2109.0,3148.9 2133.2,3155.9 2157.4,3160.4 2181.6,3163.6 2205.8,3165.5 2230.1,3167.4 2254.3,3168.1 2278.5,3168.9 2302.7,3169.3 2326.9,3169.4 2351.2,3169.5 2375.4,3169.7 2399.6,3169.8" fill="none" stroke="#808000" stroke-width="9.5" stroke-linejoin="round" stroke-linecap="butt"/>
<polyline points="462.0,3017.2 486.2,3014.1 510.4,3011.2 534.7,3008.5 558.9,3004.3 583.1,2993.9 607.3,2980.5 631.5,2960.0 655.8,2935.1 680.0,2906.2 704.2,2876.0 728.4,2835.2 752.6,2794.3 776.9,2747.2 801.1,2696.6 825.3,2646.0 849.5,2590.4 873.7,2534.4 898.0,2481.1 922.2,2428.6 946.4,2374.2 970.6,2319.4 994.8,2269.8 1019.1,2223.0 1043.3,2173.1 1067.5,2120.0 1091.7,2080.2 1115.9,2048.4 1140.2,2018.9 1164.4,1997.9 1188.6,1988.8 1212.8,1972.7 1237.0,1959.3 1261.3,1948.7 1285.5,1944.3 1309.7,1948.3 1333.9,1949.1 1358.1,1957.6 1382.4,1966.1 1406.6,1974.9 1430.8,1990.6 1455.0,2008.9 1479.2,2027.9 1503.5,2055.5 1527.7,2083.3 1551.9,2111.2 1576.1,2136.7 1600.3,2161.0 1624.6,2185.9 1648.8,2215.2 1673.0,2249.7 1697.2,2297.2 1721.4,2362.4 1745.7,2443.3 1769.9,2521.9 1794.1,2600.7 1818.3,2680.7 1842.5,2760.6 1866.8,2828.5 1891.0,2884.6 1915.2,2932.8 1939.4,2976.3 1963.6,3014.8 1987.9,3049.4 2012.1,3071.5 2036.3,3092.3 2060.5,3113.1 2084.7,3127.6 2109.0,3138.1 2133.2,3145.8 2157.4,3151.1 2181.6,3155.5 2205.8,3158.9 2230.1,3162.3 2254.3,3163.8 2278.5,3165.3 2302.7,3166.3 2326.9,3166.9 2351.2,3167.5 2375.4,3168.1 2399.6,3168.7" fill="none" stroke="#000080" stroke-width="9.5" stroke-linejoin="round" stroke-linecap="butt"/>
<polyline points="462.0,3020.6 486.2,3017.2 510.4,3014.0 534.7,3011.0 558.9,3006.7 583.1,2995.9 607.3,2982.3 631.5,2961.7 655.8,2937.5 680.0,2908.3 704.2,2878.9 728.4,2837.9 752.6,2796.9 776.9,2750.5 801.1,2700.3 825.3,2650.1 849.5,2595.0 873.7,2538.9 898.0,2485.7 922.2,2433.9 946.4,2380.6 970.6,2326.7 994.8,2276.8 1019.1,2230.7 1043.3,2182.5 1067.5,2129.9 1091.7,2088.3 1115.9,2061.0 1140.2,2034.3 1164.4,2010.6 1188.6,2001.5 1212.8,1987.6 1237.0,1975.1 1261.3,1964.9 1285.5,1960.5 1309.7,1963.9 1333.9,1968.9 1358.1,1974.5 1382.4,1983.2 1406.6,1993.9 1430.8,2006.1 1455.0,2024.9 1479.2,2046.3 1503.5,2073.7 1527.7,2101.2 1551.9,2128.8 1576.1,2154.2 1600.3,2178.6 1624.6,2204.2 1648.8,2234.8 1673.0,2264.9 1697.2,2306.8 1721.4,2375.1 1745.7,2455.6 1769.9,2532.0 1794.1,2608.8 1818.3,2687.3 1842.5,2765.8 1866.8,2834.5 1891.0,2895.7 1915.2,2946.9 1939.4,2992.1 1963.6,3030.8 1987.9,3064.5 2012.1,3085.2 2036.3,3104.7 2060.5,3124.1 2084.7,3137.8 2109.0,3147.8 2133.2,3155.0 2157.4,3159.7 2181.6,3163.2 2205.8,3165.2 2230.1,3167.2 2254.3,3167.9 2278.5,3168.7 2302.7,3169.1 2326.9,3169.2 2351.2,3169.4 2375.4,3169.5 2399.6,3169.7" fill="none" stroke="#990000" stroke-width="9.5" stroke-linejoin="round" stroke-linecap="butt"/>
<polyline points="462.0,3024.4 486.2,3020.7 510.4,3017.2 534.7,3013.8 558.9,3009.4 583.1,2998.6 607.3,2984.9 631.5,2964.7 655.8,2942.5 680.0,2913.9 704.2,2881.7 728.4,2843.7 752.6,2800.7 776.9,2756.5 801.1,2705.8 825.3,2655.0 849.5,2600.1 873.7,2543.9 898.0,2490.7 922.2,2439.7 946.4,2387.5 970.6,2334.6 994.8,2284.4 1019.1,2239.1 1043.3,2192.9 1067.5,2140.9 1091.7,2095.1 1115.9,2072.4 1140.2,2049.2 1164.4,2025.5 1188.6,2018.2 1212.8,2003.4 1237.0,1990.4 1261.3,1980.4 1285.5,1980.2 1309.7,1980.2 1333.9,1990.0 1358.1,1997.2 1382.4,2007.2 1406.6,2018.6 1430.8,2034.1 1455.0,2048.0 1479.2,2067.4 1503.5,2094.3 1527.7,2121.4 1551.9,2148.5 1576.1,2174.6 1600.3,2200.3 1624.6,2225.9 1648.8,2251.7 1673.0,2278.1 1697.2,2321.6 1721.4,2390.7 1745.7,2466.3 1769.9,2540.4 1794.1,2616.0 1818.3,2694.8 1842.5,2773.6 1866.8,2839.1 1891.0,2897.9 1915.2,2948.0 1939.4,2992.3 1963.6,3030.2 1987.9,3062.7 2012.1,3088.2 2036.3,3108.0 2060.5,3123.4 2084.7,3135.3 2109.0,3145.3 2133.2,3152.5 2157.4,3157.2 2181.6,3160.8 2205.8,3163.1 2230.1,3165.4 2254.3,3166.4 2278.5,3167.3 2302.7,3168.0 2326.9,3168.4 2351.2,3168.8 2375.4,3169.1 2399.6,3169.3" fill="none" stroke="#ff0080" stroke-width="9.5" stroke-linejoin="round" stroke-linecap="butt"/>

</svg></body></html>
